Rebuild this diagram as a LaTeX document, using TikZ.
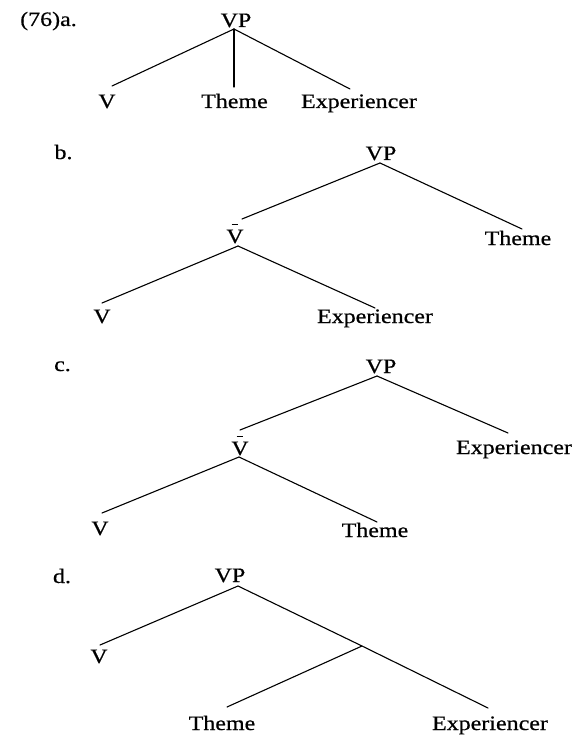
\documentclass[tikz,border=0pt]{standalone}
\usepackage{fontspec}
\setmainfont{Liberation Serif}[FakeStretch=1.17,FakeBold=0.6]
% V with a short bar above it (V-bar category)
\newcommand{\vbar}{\ooalign{V\cr\hidewidth\rule[0.86em]{0.32em}{0.07em}\hidewidth\cr}}
\begin{document}
\begin{tikzpicture}[x=1pt,y=-1pt,
  lbl/.style={anchor=base,inner sep=0pt,font=\fontsize{20.5}{24}\selectfont},
  branch/.style={line width=1.1pt,line cap=round}]
\useasboundingbox (0,0) rectangle (573,735);
\fill[white] (0,0) rectangle (573,735);

% ---- (76)a: flat structure
\node[lbl] (la) at (48.5,26) {(76)a.};
\node[lbl] (aVP) at (236,27) {VP};
\node[lbl] (aV) at (107,108) {V};
\node[lbl] (aTh) at (234.5,108) {Theme};
\node[lbl] (aEx) at (359,108) {Experiencer};
\coordinate (aVP-b) at (234,29);
\coordinate (aV-t) at (112,86);
\coordinate (aTh-t) at (234,87);
\coordinate (aEx-t) at (350,89);
\draw[branch] (aVP-b) -- (aV-t);
\draw[branch] (aVP-b) -- (aTh-t);
\draw[branch] (aVP-b) -- (aEx-t);

% ---- b: Experiencer inside V-bar
\node[lbl] (lb) at (63.5,159) {b.};
\node[lbl] (bVP) at (381,160) {VP};
\node[lbl] (bVb) at (235,243) {\vbar};
\node[lbl] (bTh) at (518,245) {Theme};
\node[lbl] (bV) at (102,323) {V};
\node[lbl] (bEx) at (375,323) {Experiencer};
\coordinate (bVP-b) at (380,163);
\coordinate (bVb-t) at (242,219);
\coordinate (bVb-b) at (238,246);
\coordinate (bTh-t) at (522,229);
\coordinate (bV-t) at (102,303);
\coordinate (bEx-t) at (375,308);
\draw[branch] (bVP-b) -- (bVb-t);
\draw[branch] (bVP-b) -- (bTh-t);
\draw[branch] (bVb-b) -- (bV-t);
\draw[branch] (bVb-b) -- (bEx-t);

% ---- c: Theme inside V-bar
\node[lbl] (lc) at (62.5,371) {c.};
\node[lbl] (cVP) at (381,373) {VP};
\node[lbl] (cVb) at (240,455) {\vbar};
\node[lbl] (cEx) at (514,454) {Experiencer};
\node[lbl] (cV) at (100,535) {V};
\node[lbl] (cTh) at (375,537) {Theme};
\coordinate (cVP-b) at (377,376);
\coordinate (cVb-t) at (240,430);
\coordinate (cVb-b) at (239,457);
\coordinate (cEx-t) at (508,433);
\coordinate (cV-t) at (102,513);
\coordinate (cTh-t) at (377,522);
\draw[branch] (cVP-b) -- (cVb-t);
\draw[branch] (cVP-b) -- (cEx-t);
\draw[branch] (cVb-b) -- (cV-t);
\draw[branch] (cVb-b) -- (cTh-t);

% ---- d: right-branching structure
\node[lbl] (ld) at (62,583) {d.};
\node[lbl] (dVP) at (230,582) {VP};
\node[lbl] (dV) at (99,663) {V};
\node[lbl] (dTh) at (222,730) {Theme};
\node[lbl] (dEx) at (490,730) {Experiencer};
\coordinate (dVP-b) at (238,586);
\coordinate (dV-t) at (100,645);
\coordinate (dMid) at (362,646);
\coordinate (dTh-t) at (227,707);
\coordinate (dEx-t) at (488,708);
\draw[branch] (dVP-b) -- (dV-t);
\draw[branch] (dVP-b) -- (dMid) -- (dEx-t);
\draw[branch] (dMid) -- (dTh-t);
\end{tikzpicture}
\end{document}
